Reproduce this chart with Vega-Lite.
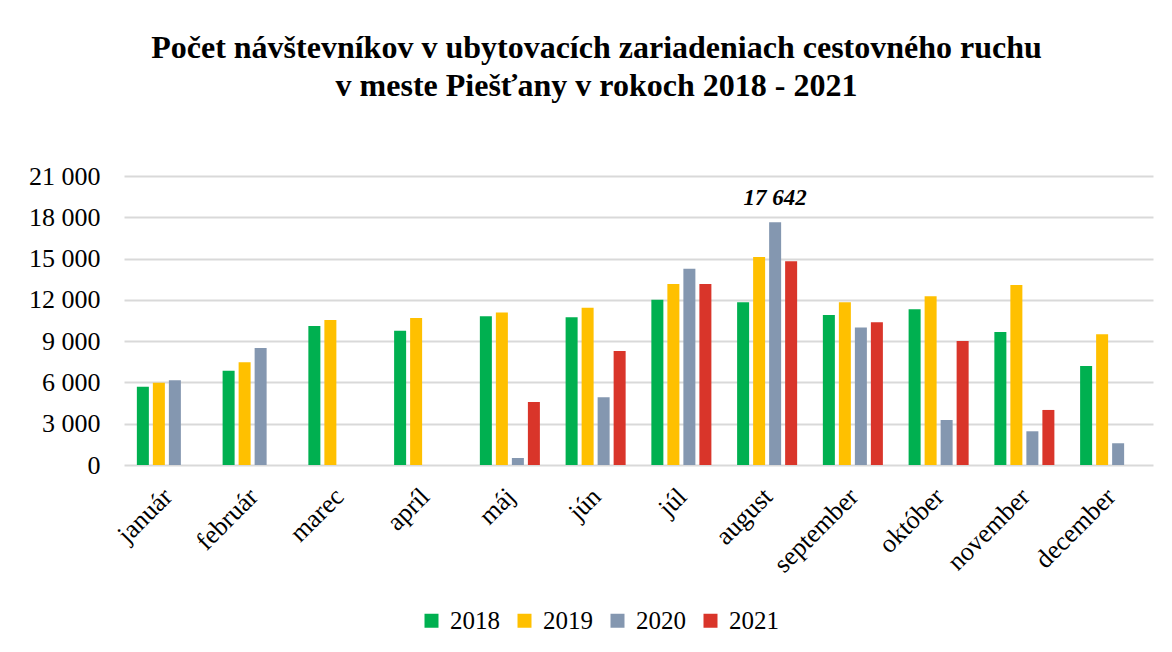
{
  "$schema": "https://vega.github.io/schema/vega-lite/v6.json",
  "width": 1029,
  "height": 289,
  "autosize": {"type": "none"},
  "padding": {"left": 124, "top": 176, "right": 19, "bottom": 187},
  "background": "white",
  "config": {
    "font": "Liberation Serif",
    "view": {"stroke": null},
    "style": {"guide-label": {"font": "Liberation Serif"}, "guide-title": {"font": "Liberation Serif"}},
    "legend": {"labelFont": "Liberation Serif", "titleFont": "Liberation Serif"},
    "axis": {"labelFont": "Liberation Serif"},
    "locale": {"number": {"decimal": ",", "thousands": " ", "grouping": [3], "currency": ["", " €"]}}
  },
  "title": {
    "text": ["Počet návštevníkov v ubytovacích zariadeniach cestovného ruchu", "v meste Piešťany v rokoch 2018 - 2021"],
    "font": "Liberation Serif",
    "fontSize": 32,
    "fontWeight": "bold",
    "color": "black",
    "anchor": "middle",
    "frame": "group",
    "dx": -42,
    "lineHeight": 38,
    "offset": 60
  },
  "data": {
    "values": [
      {"month": "január", "year": "2018", "value": 5690},
      {"month": "január", "year": "2019", "value": 5980},
      {"month": "január", "year": "2020", "value": 6150},
      {"month": "február", "year": "2018", "value": 6850},
      {"month": "február", "year": "2019", "value": 7460},
      {"month": "február", "year": "2020", "value": 8500},
      {"month": "marec", "year": "2018", "value": 10100},
      {"month": "marec", "year": "2019", "value": 10540},
      {"month": "apríl", "year": "2018", "value": 9760},
      {"month": "apríl", "year": "2019", "value": 10680},
      {"month": "máj", "year": "2018", "value": 10800},
      {"month": "máj", "year": "2019", "value": 11090},
      {"month": "máj", "year": "2020", "value": 510},
      {"month": "máj", "year": "2021", "value": 4580},
      {"month": "jún", "year": "2018", "value": 10730},
      {"month": "jún", "year": "2019", "value": 11430},
      {"month": "jún", "year": "2020", "value": 4920},
      {"month": "jún", "year": "2021", "value": 8280},
      {"month": "júl", "year": "2018", "value": 12010},
      {"month": "júl", "year": "2019", "value": 13150},
      {"month": "júl", "year": "2020", "value": 14260},
      {"month": "júl", "year": "2021", "value": 13150},
      {"month": "august", "year": "2018", "value": 11820},
      {"month": "august", "year": "2019", "value": 15110},
      {"month": "august", "year": "2020", "value": 17642},
      {"month": "august", "year": "2021", "value": 14800},
      {"month": "september", "year": "2018", "value": 10900},
      {"month": "september", "year": "2019", "value": 11820},
      {"month": "september", "year": "2020", "value": 10000},
      {"month": "september", "year": "2021", "value": 10370},
      {"month": "október", "year": "2018", "value": 11310},
      {"month": "október", "year": "2019", "value": 12260},
      {"month": "október", "year": "2020", "value": 3270},
      {"month": "október", "year": "2021", "value": 9010},
      {"month": "november", "year": "2018", "value": 9660},
      {"month": "november", "year": "2019", "value": 13080},
      {"month": "november", "year": "2020", "value": 2450},
      {"month": "november", "year": "2021", "value": 4000},
      {"month": "december", "year": "2018", "value": 7190},
      {"month": "december", "year": "2019", "value": 9500},
      {"month": "december", "year": "2020", "value": 1580}
    ]
  },
  "layer": [
    {
      "mark": {"type": "bar"},
      "encoding": {
        "x": {
          "field": "month", "type": "nominal",
          "sort": ["január", "február", "marec", "apríl", "máj", "jún", "júl", "august", "september", "október", "november", "december"],
          "scale": {"paddingInner": 0.3, "paddingOuter": 0.15},
          "axis": {"title": null, "labelAngle": -45, "labelFontSize": 26, "labelColor": "black", "ticks": false, "tickSize": 0, "domain": false, "labelPadding": 18, "labelOffset": -8, "labelFont": "Liberation Serif"}
        },
        "xOffset": {"field": "year", "type": "nominal", "scale": {"paddingInner": 0.25, "domain": ["2018", "2019", "2020", "2021"]}},
        "y": {
          "field": "value", "type": "quantitative",
          "scale": {"domain": [0, 21000], "nice": false},
          "axis": {"title": null, "values": [0, 3000, 6000, 9000, 12000, 15000, 18000, 21000], "format": ",d", "labelFontSize": 26, "labelColor": "black", "labelPadding": 24, "ticks": false, "tickSize": 0, "domain": false, "gridColor": "#D9D9D9", "gridWidth": 2, "labelFont": "Liberation Serif"}
        },
        "color": {
          "field": "year", "type": "nominal",
          "scale": {"domain": ["2018", "2019", "2020", "2021"], "range": ["#00B050", "#FFC000", "#8497B0", "#D9352A"]},
          "legend": {"orient": "none", "direction": "horizontal", "legendX": 295, "legendY": 432, "title": null, "symbolType": "square", "symbolSize": 196, "symbolStrokeWidth": 0, "labelFontSize": 25, "labelOffset": 6, "columnPadding": 12, "padding": 0, "labelColor": "black", "labelFont": "Liberation Serif"}
        }
      }
    },
    {
      "transform": [{"filter": "datum.value == 17642"}],
      "mark": {"type": "text", "font": "Liberation Serif", "fontSize": 23, "fontStyle": "italic", "fontWeight": "bold", "baseline": "alphabetic", "dy": -17, "color": "black"},
      "encoding": {
        "x": {"field": "month", "type": "nominal", "sort": ["január", "február", "marec", "apríl", "máj", "jún", "júl", "august", "september", "október", "november", "december"]},
        "xOffset": {"field": "year", "type": "nominal"},
        "y": {"field": "value", "type": "quantitative"},
        "text": {"field": "value", "type": "quantitative", "format": ",d"}
      }
    }
  ]
}
